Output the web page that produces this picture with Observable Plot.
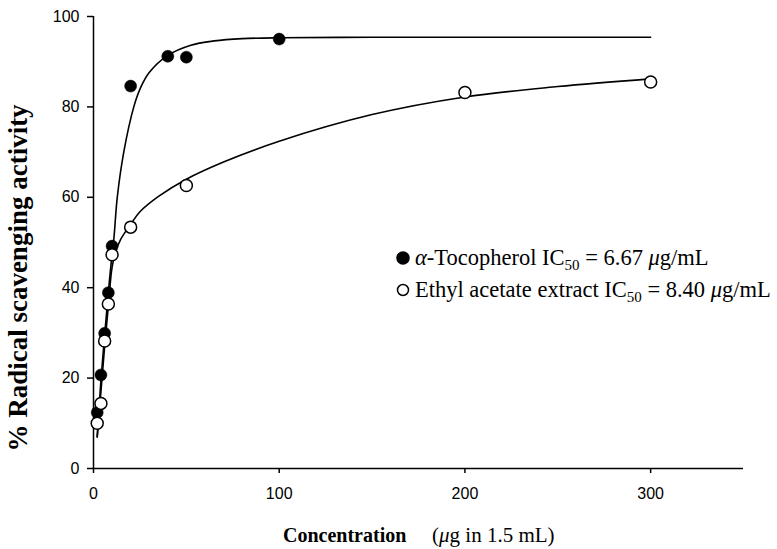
<!DOCTYPE html>
<html>
<head>
<meta charset="utf-8">
<script src="https://cdn.jsdelivr.net/npm/d3@7"></script>
<script src="https://cdn.jsdelivr.net/npm/@observablehq/plot@0.6"></script>
<style>
  html, body { margin: 0; padding: 0; background: #fff; }
  svg { display: block; }
</style>
</head>
<body>
<div id="chart"></div>
<script>
// Measured points
const tocoX = [2, 4, 6, 8, 10, 20, 40, 50, 100];
const tocoY = [12.4, 20.7, 29.9, 38.9, 49.2, 84.6, 91.2, 91.0, 95.0];
const ethylX = [2, 4, 6, 8, 10, 20, 50, 200, 300];
const ethylY = [10.0, 14.4, 28.2, 36.4, 47.3, 53.4, 62.6, 83.2, 85.5];

// Fitted curves
const tocoCurveX = [2, 4, 6, 8, 10, 11, 12.8, 16.3, 21.7, 25.3, 30, 40, 52, 65, 80, 100, 150, 200, 300];
const tocoCurveY = [7, 19.5, 29.5, 39, 47.5, 51, 60, 70, 80, 84.2, 87.6, 91.4, 93.6, 94.6, 95.1, 95.3, 95.4, 95.4, 95.4];
const ethylCurveX = [2, 4, 6, 8, 10, 12, 14.5, 20, 25, 35, 50, 70, 100, 150, 200, 250, 300];
const ethylCurveY = [7, 17, 27, 36, 44.5, 48, 50.6, 54, 56.8, 60.2, 64.0, 67.8, 72.4, 78.3, 82.2, 84.5, 86.2];

const xTicks = [0, 100, 200, 300];
const yTicks = [0, 20, 40, 60, 80, 100];

const toco = tocoX.map((x, i) => ({x, y: tocoY[i]}));
const ethyl = ethylX.map((x, i) => ({x, y: ethylY[i]}));
const tocoCurve = tocoCurveX.map((x, i) => ({x, y: tocoCurveY[i]}));
const ethylCurve = ethylCurveX.map((x, i) => ({x, y: ethylCurveY[i]}));

const W = 777, H = 549;
const plot = Plot.plot({
  width: W, height: H,
  marginLeft: 93, marginRight: 34, marginTop: 16, marginBottom: 81,
  x: {domain: [0, 350]},
  y: {domain: [0, 100]},
  style: {fontFamily: "'Liberation Sans', Arial, sans-serif", fontSize: "16px", color: "black", background: "white", overflow: "visible"},
  marks: [
    Plot.axisX({ticks: xTicks, tickSize: 5, tickPadding: 14, label: null, fontSize: 16, strokeWidth: 1.5}),
    Plot.axisY({ticks: yTicks, tickSize: 6, tickPadding: 8, label: null, fontSize: 16, strokeWidth: 1.5}),
    Plot.ruleX([0], {stroke: "black", strokeWidth: 1.5}),
    Plot.ruleY([0], {stroke: "black", strokeWidth: 1.5}),
    Plot.line(tocoCurve, {x: "x", y: "y", curve: "catmull-rom", stroke: "black", strokeWidth: 1.6}),
    Plot.line(ethylCurve, {x: "x", y: "y", curve: "catmull-rom", stroke: "black", strokeWidth: 1.6}),
    Plot.dot(toco, {x: "x", y: "y", r: 6, fill: "black", stroke: "black", strokeWidth: 0.5}),
    Plot.dot(ethyl, {x: "x", y: "y", r: 6, fill: "white", stroke: "black", strokeWidth: 1.5})
  ]
});
document.getElementById("chart").appendChild(plot);

const svg = d3.select(plot);
const serif = "'Liberation Serif', 'Times New Roman', serif";

// Y axis title
svg.append("text")
  .attr("transform", "translate(27,278) rotate(-90)")
  .attr("text-anchor", "middle")
  .attr("font-family", serif)
  .attr("font-weight", "bold")
  .attr("font-size", 27)
  .attr("fill", "black")
  .text("% Radical scavenging activity");

// X axis title
const xt = svg.append("text")
  .attr("x", 283).attr("y", 542)
  .attr("text-anchor", "start")
  .attr("font-family", serif)
  .attr("font-size", 21)
  .attr("fill", "black");
xt.append("tspan").attr("font-weight", "bold").attr("font-size", 20).text("Concentration");
xt.append("tspan").attr("x", 432).text("(");
xt.append("tspan").attr("font-style", "italic").text("μ");
xt.append("tspan").text("g in 1.5 mL)");

// Legend
const legend = [
  {filled: true, y: 265, pre: "α", text: "-Tocopherol IC", val: " = 6.67 "},
  {filled: false, y: 297, pre: "", text: "Ethyl acetate extract IC", val: " = 8.40 "}
];
legend.forEach(d => {
  svg.append("circle")
    .attr("cx", 403).attr("cy", d.y - 7).attr("r", d.filled ? 6 : 5.5)
    .attr("fill", d.filled ? "black" : "white")
    .attr("stroke", "black").attr("stroke-width", 1.5);
  const t = svg.append("text")
    .attr("x", 415).attr("y", d.y)
    .attr("text-anchor", "start")
    .attr("font-family", serif).attr("font-size", 22.5).attr("fill", "black")
    .attr("xml:space", "preserve");
  if (d.pre) t.append("tspan").attr("font-style", "italic").text(d.pre);
  t.append("tspan").text(d.text);
  t.append("tspan").attr("font-size", 15).attr("dy", 5).text("50");
  t.append("tspan").attr("dy", -5).text(d.val);
  t.append("tspan").attr("font-style", "italic").text("μ");
  t.append("tspan").text("g/mL");
});
</script>
</body>
</html>
